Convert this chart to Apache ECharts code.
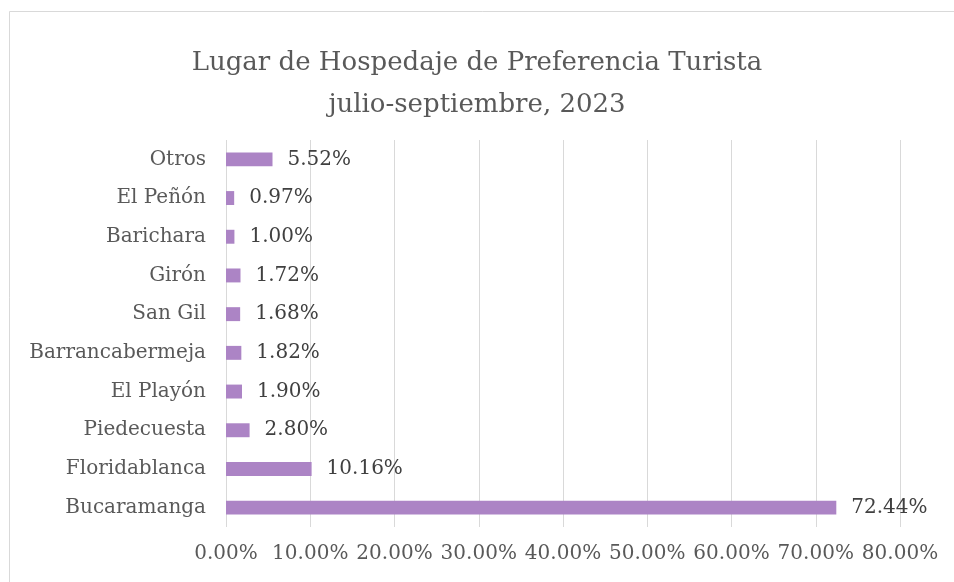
<!DOCTYPE html>
<html><head><meta charset="utf-8">
<script src="https://cdn.jsdelivr.net/npm/echarts@6/dist/echarts.min.js"></script>
<style>html,body{margin:0;padding:0;background:#fff}#c{width:954px;height:582px}</style>
</head><body><div id="c"></div>
<script>
const categories = ['Bucaramanga','Floridablanca','Piedecuesta','El Playón','Barrancabermeja','San Gil','Girón','Barichara','El Peñón','Otros'];
const values = [72.44, 10.16, 2.80, 1.90, 1.82, 1.68, 1.72, 1.00, 0.97, 5.52];
const titleLines = ['Lugar de Hospedaje de Preferencia Turista', 'julio-septiembre, 2023'];
const FONT = 'DejaVu Serif';
const chart = echarts.init(document.getElementById('c'));
chart.setOption({
  animation: false,
  backgroundColor: '#fff',
  graphic: [{type:'rect', shape:{x:9.5,y:11.5,width:980,height:620}, style:{fill:'none', stroke:'#d9d9d9', lineWidth:1}, silent:true}],
  title: {
    text: titleLines.join('\n'), left: 'center', top: 37,
    textStyle: {fontFamily: FONT, fontWeight: 'normal', fontSize: 26, color: '#595959', lineHeight: 42}
  },
  grid: {left: 226, right: 54, top: 140, bottom: 55, containLabel: false},
  xAxis: {
    type: 'value', min: 0, max: 80, interval: 10,
    axisLine: {show: false}, axisTick: {show: false},
    splitLine: {lineStyle: {color: '#d9d9d9', width: 1}},
    axisLabel: {formatter: v => v.toFixed(2) + '%', fontFamily: FONT, fontSize: 20, color: '#595959', margin: 17}
  },
  yAxis: {
    type: 'category', data: categories,
    axisLine: {show: false}, axisTick: {show: false},
    axisLabel: {fontFamily: FONT, fontSize: 20, color: '#595959', margin: 20}
  },
  series: [{
    type: 'bar', data: values, barWidth: '36%',
    itemStyle: {color: '#ac84c5'},
    label: {show: true, position: 'right', distance: 15, formatter: p => p.value.toFixed(2) + '%', fontFamily: FONT, fontSize: 20, color: '#404040'}
  }]
});
</script></body></html>
